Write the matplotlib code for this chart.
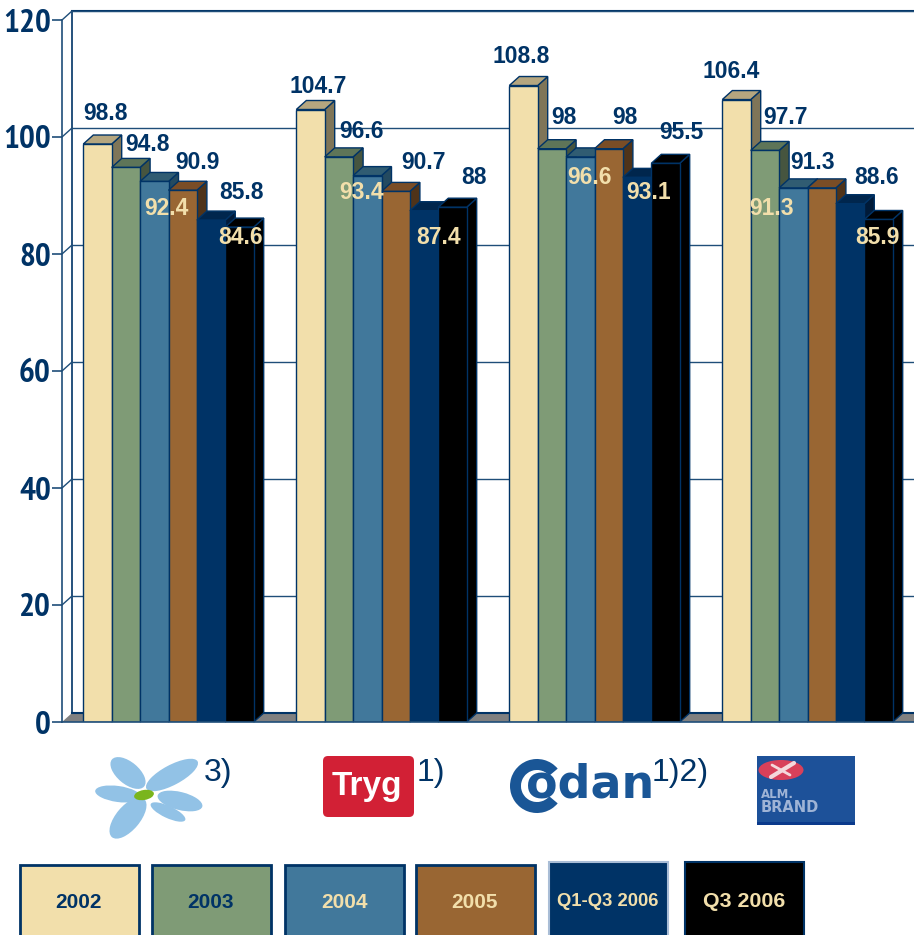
import matplotlib
matplotlib.use('Agg')
import matplotlib.pyplot as plt
from matplotlib.patches import Rectangle, Polygon, Ellipse, Wedge, FancyBboxPatch

# Combined ratio per company and period
series_names = ['2002', '2003', '2004', '2005', 'Q1-Q3 2006', 'Q3 2006']
topdanmark = [98.8, 94.8, 92.4, 90.9, 85.8, 84.6]
tryg = [104.7, 96.6, 93.4, 90.7, 87.4, 88]
codan = [108.8, 98, 96.6, 98, 93.1, 95.5]
almbrand = [106.4, 97.7, 91.3, 91.3, 88.6, 85.9]
companies = [topdanmark, tryg, codan, almbrand]
yticks = [0, 20, 40, 60, 80, 100, 120]

NAVY = '#003366'
CREAM = '#F2DFAB'
front_cols = ['#F2DFAB', '#7F9B76', '#41789B', '#996633', '#003366', '#000000']
top_cols = ['#B5A67F', '#5E7558', '#305C72', '#7A4D26', '#00264D', '#000000']
side_cols = ['#7F7558', '#46553F', '#244A60', '#4F3319', '#001A38', '#000000']

# label centres in picture pixels, same order as the data
label_xy = [
    [(106, 112), (148, 143), (166, 207), (197, 161), (241, 191), (241, 236)],
    [(318, 85), (362, 130), (362, 191), (424, 161), (439, 236), (474, 176)],
    [(521, 55), (564, 116), (589, 176), (625, 116), (649, 191), (681, 131)],
    [(731, 70), (785, 116), (772, 207), (813, 161), (877, 176), (877, 236)],
]
label_cols_all = [
    [NAVY, NAVY, CREAM, NAVY, NAVY, CREAM],
    [NAVY, NAVY, CREAM, NAVY, CREAM, NAVY],
    [NAVY, NAVY, CREAM, NAVY, CREAM, NAVY],
    [NAVY, NAVY, CREAM, NAVY, NAVY, CREAM],
]

W, H = 914, 935
plt.rcParams['font.family'] = 'Liberation Sans'

fig = plt.figure(figsize=(W / 100, H / 100), dpi=100)
ax = fig.add_axes([62 / W, 1 - 722 / H, 852 / W, 702 / H])
ax.set_xlim(0, 4)
ax.set_ylim(0, 120)

# depth of the fake 3d, in data units
dx = 10 / 213
dy = 9 / 5.85
bar_w = 28.4 / 213

# floor and back wall
ax.add_patch(Polygon([(0, 0), (dx, dy), (4.1, dy), (4.1, 0)], closed=True, fc='#808080',
                     ec='none', clip_on=False, zorder=1))
ax.plot([dx, 4.1], [dy, dy], color=NAVY, lw=1.5, zorder=1.5, clip_on=False)
ax.plot([dx, dx], [dy, 120 + dy], color=NAVY, lw=1.2, clip_on=False, zorder=1.5)
ax.plot([dx, 4.1], [120 + dy, 120 + dy], color=NAVY, lw=1.5, clip_on=False, zorder=1.5)
for t in yticks[1:]:
    ax.plot([0, dx], [t, t + dy], color='#1F4E79', lw=1, clip_on=False, zorder=1.5)
    ax.plot([dx, 4.1], [t + dy, t + dy], color='#1F4E79', lw=1, clip_on=False, zorder=1.5)

# bars, left to right so each front hides the side of the one before
z = 2
for i, vals in enumerate(companies):
    start = i + 0.5 - 3 * bar_w
    for j, v in enumerate(vals):
        x0 = start + j * bar_w
        x1 = x0 + bar_w
        ax.add_patch(Polygon([(x1, 0), (x1 + dx, dy), (x1 + dx, v + dy), (x1, v)], closed=True,
                             fc=side_cols[j], ec=NAVY, lw=1, zorder=z, clip_on=False))
        ax.add_patch(Polygon([(x0, v), (x0 + dx, v + dy), (x1 + dx, v + dy), (x1, v)], closed=True,
                             fc=top_cols[j], ec=NAVY, lw=1, zorder=z, clip_on=False))
        ax.bar(x0, v, width=bar_w, align='edge', color=front_cols[j], edgecolor=NAVY, lw=1, zorder=z + 0.5)
        z += 1

ax.set_yticks(yticks)
ax.set_yticklabels([str(t) for t in yticks], fontsize=24, fontweight='bold', color=NAVY,
                   family=['PT Sans Narrow', 'Liberation Sans'])
ax.set_xticks([])
ax.tick_params(axis='y', length=7, width=1.2, color='#1F4E79', pad=1)
for s in ['top', 'right']:
    ax.spines[s].set_visible(False)
ax.spines['left'].set_color('#1F4E79')
ax.spines['left'].set_linewidth(1.2)
ax.spines['bottom'].set_color('#1F4E79')
ax.spines['bottom'].set_linewidth(1.2)
ax.spines['bottom'].set_zorder(200)

# overlay in picture pixels for labels, logos and legend boxes
ov = fig.add_axes([0, 0, 1, 1], facecolor='none')
ov.set_xlim(0, W)
ov.set_ylim(H, 0)
ov.axis('off')

for i, vals in enumerate(companies):
    for j, v in enumerate(vals):
        px, py = label_xy[i][j]
        ov.text(px, py + 1.5, '%g' % v, color=label_cols_all[i][j], fontsize=16.5, fontweight='bold',
                ha='center', va='center')

# flower logo
petal = '#92C2E6'
for cx, cy, a, b, ang in [(172, 775, 58, 20, -28), (128, 773, 42, 22, 40), (118, 794, 46, 16, 8),
                          (180, 801, 46, 18, 14), (128, 818, 50, 24, -50), (168, 812, 38, 12, 25)]:
    ov.add_patch(Ellipse((cx, cy), a, b, angle=ang, fc=petal, ec='none'))
ov.add_patch(Ellipse((144, 795), 20, 10, angle=-10, fc='#7AB51D', ec='none'))
ov.text(204, 773, '3)', fontsize=23, color=NAVY, ha='left', va='center')

# Tryg logo
ov.add_patch(FancyBboxPatch((323, 756), 91, 61, boxstyle='round,pad=0,rounding_size=5',
                            fc='#D22035', ec='none'))
ov.text(367, 786, 'Tryg', fontsize=24, fontweight='bold', color='white', ha='center', va='center')
ov.text(417, 773, '1)', fontsize=23, color=NAVY, ha='left', va='center')

# Codan logo
ov.add_patch(Wedge((537, 786), 27, 40, 320, width=11, fc='#1A5696', ec='none'))
ov.text(526, 798, 'odan', fontsize=33, fontweight='bold', color='#1A5696', family='DejaVu Sans',
        ha='left', va='baseline')
ov.text(652, 773, '1)2)', fontsize=23, color=NAVY, ha='left', va='center')

# Alm. Brand logo
ov.add_patch(Rectangle((757, 756), 98, 69, fc='#1D5199', ec='none'))
ov.add_patch(Rectangle((757, 822), 98, 3, fc='#0B3A8C', ec='none'))
ov.add_patch(Ellipse((781, 770), 45, 20, fc='#D8405A', ec='none'))
ov.plot([771, 794], [777, 763], color='#F4D8DC', lw=3, solid_capstyle='round')
ov.plot([772, 790], [765, 775], color='#F4D8DC', lw=2, solid_capstyle='round')
ov.text(761, 795, 'ALM.', fontsize=8.5, fontweight='bold', color='#9FB4D6', family='DejaVu Sans', va='center')
ov.text(761, 808, 'BRAND', fontsize=10.5, fontweight='bold', color='#9FB4D6', family='DejaVu Sans', va='center')

# legend boxes, they run off the bottom of the picture
box_x = [20, 152, 285, 416, 549, 685]
box_y = [865, 865, 865, 865, 862, 862]
box_ec = [NAVY, NAVY, NAVY, NAVY, '#A9BDD6', NAVY]
text_c = [NAVY, NAVY, CREAM, CREAM, CREAM, CREAM]
text_s = [15, 15, 15, 15, 13.3, 15.4]
for j, name in enumerate(series_names):
    ov.add_patch(Rectangle((box_x[j], box_y[j]), 119, 90, fc=front_cols[j], ec=box_ec[j],
                           lw=2 if j < 4 else 1.5))
    ov.text(box_x[j] + 59, 903 + (box_y[j] - 865) * 0.4, name, color=text_c[j], fontsize=text_s[j],
            fontweight='bold', ha='center', va='center')

fig.savefig('out.png', dpi=100, facecolor='white')
